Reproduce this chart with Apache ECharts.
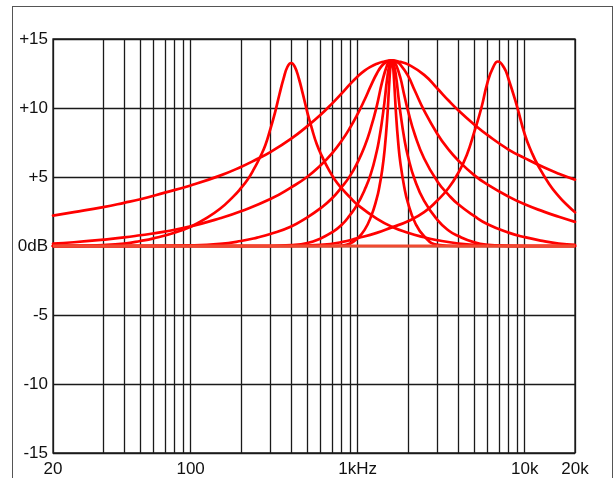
<!DOCTYPE html>
<html>
<head>
<meta charset="utf-8">
<script src="https://cdn.jsdelivr.net/npm/echarts@6/dist/echarts.min.js"></script>
<style>
  html, body { margin: 0; padding: 0; background: #fff; }
  #frame { position: absolute; left: 12px; top: 6px; width: 599px; height: 520px; border: 1px solid #555; }
  #chart { position: absolute; left: 0; top: 0; width: 616px; height: 478px; }
</style>
</head>
<body>
<div id="frame"></div>
<div id="chart"></div>
<script>
// frequency grid (Hz) and labels
var gridFreqs = [15, 30, 40, 50, 60, 70, 80, 90, 100, 200, 300, 400, 500, 600, 700, 800, 900,
    1000, 2000, 3000, 4000, 5000, 6000, 7000, 8000, 9000, 10000, 20000];
var labelFreqs = [15, 100, 1000, 10000, 20000];
var labelTexts = ['20', '100', '1kHz', '10k', '20k'];
var dbTicks = [-15, -10, -5, 0, 5, 10, 15];
var dbLabels = ['-15', '-10', '-5', '0dB', '+5', '+10', '+15'];

// curves: [frequency Hz, gain dB]
var bellWidest = [[15, 2.2], [20, 2.45], [30, 2.82], [40, 3.13], [50, 3.39], [70, 3.87], [100, 4.39], [150, 5.1],
    [200, 5.73], [250, 6.3], [300, 6.8], [400, 7.78], [500, 8.69], [600, 9.51], [700, 10.3], [800, 11.04],
    [900, 11.73], [1000, 12.29], [1100, 12.71], [1200, 13.0], [1300, 13.2], [1400, 13.33], [1600, 13.45],
    [1800, 13.34], [2000, 13.16], [2500, 12.4], [3000, 11.41], [3500, 10.54], [4000, 9.84], [5000, 8.79],
    [6000, 8.03], [8000, 6.99], [10000, 6.37], [13000, 5.7], [16000, 5.24], [20000, 4.81]];
var bellWide = [[15, 0.17], [20, 0.27], [30, 0.46], [40, 0.62], [50, 0.78], [70, 1.04], [100, 1.42], [150, 2.01],
    [200, 2.52], [300, 3.4], [400, 4.25], [500, 5.02], [600, 5.85], [700, 6.7], [800, 7.61], [900, 8.57],
    [1000, 9.57], [1100, 10.6], [1200, 11.62], [1300, 12.48], [1400, 13.08], [1500, 13.35], [1600, 13.45],
    [1700, 13.35], [1800, 13.14], [2000, 12.34], [2200, 11.25], [2500, 9.81], [3000, 8.12], [3500, 6.99],
    [4000, 6.2], [5000, 5.12], [6000, 4.45], [8000, 3.58], [10000, 3.02], [13000, 2.49], [16000, 2.12],
    [20000, 1.75]];
var bellMid = [[15, 0], [50, 0], [100, 0.04], [150, 0.15], [200, 0.36], [250, 0.61], [300, 0.87], [400, 1.42],
    [500, 2.08], [600, 2.74], [700, 3.44], [800, 4.25], [900, 5.08], [1000, 6.08], [1100, 7.21], [1200, 8.57],
    [1300, 10.12], [1400, 11.87], [1500, 13.1], [1550, 13.35], [1600, 13.45], [1650, 13.35], [1700, 13.12],
    [1800, 12.21], [1900, 10.94], [2000, 9.81], [2200, 8.06], [2500, 6.34], [3000, 4.68], [3500, 3.71],
    [4000, 3.02], [5000, 2.16], [6000, 1.58], [8000, 0.97], [10000, 0.64], [13000, 0.35], [16000, 0.18],
    [20000, 0.09]];
var bellNarrow = [[15, 0], [300, 0], [400, 0.06], [500, 0.22], [600, 0.55], [700, 0.98], [800, 1.52], [900, 2.25],
    [1000, 3.05], [1100, 4.06], [1200, 5.24], [1300, 6.85], [1350, 7.87], [1400, 9.1], [1450, 10.52],
    [1500, 12.08], [1550, 13.11], [1600, 13.45], [1650, 13.1], [1700, 12.22], [1750, 10.92], [1800, 9.7],
    [1900, 7.81], [2000, 6.5], [2200, 4.78], [2500, 3.27], [3000, 1.89], [3500, 1.12], [4000, 0.72],
    [5000, 0.26], [6000, 0.08], [8000, 0], [20000, 0]];
var bellNarrowest = [[15, 0], [700, 0], [800, 0.03], [900, 0.18], [1000, 0.57], [1100, 1.17], [1200, 2.11],
    [1300, 3.43], [1350, 4.32], [1400, 5.45], [1450, 6.97], [1500, 9.11], [1550, 12.04],
    [1575, 13.11], [1600, 13.45], [1625, 13.11], [1650, 12.1], [1700, 9.4], [1750, 7.45], [1800, 6.06],
    [1900, 4.28], [2000, 3.13], [2200, 1.72], [2500, 0.71], [3000, 0.09], [4000, 0], [20000, 0]];
var peakLow = [[15, 0], [20, 0.01], [30, 0.07], [40, 0.18], [50, 0.36], [60, 0.55], [80, 0.96], [100, 1.4],
    [120, 1.91], [150, 2.7], [180, 3.58], [200, 4.19], [220, 4.83], [240, 5.6], [260, 6.42], [280, 7.3],
    [300, 8.47], [320, 9.67], [340, 10.98], [360, 12.13], [380, 12.99], [400, 13.26], [420, 13.0],
    [445, 12.12], [470, 11.0], [500, 9.67], [530, 8.58], [570, 7.35], [620, 6.35], [670, 5.55], [730, 4.8],
    [800, 4.19], [900, 3.52], [1000, 2.98], [1300, 1.99], [1600, 1.4], [2000, 0.96], [2500, 0.63],
    [3000, 0.42], [4000, 0.18], [5000, 0.09], [7000, 0.02], [10000, 0], [20000, 0]];
var peakHigh = [[15, 0], [400, 0], [600, 0.08], [800, 0.28], [1000, 0.57], [1300, 0.95], [1600, 1.35],
    [2000, 1.8], [2500, 2.45], [3000, 3.3], [3500, 4.2], [4000, 5.3], [4500, 6.6], [5000, 8.3], [5500, 10.0],
    [6000, 11.9], [6500, 13.0], [6900, 13.37], [7500, 12.95], [8000, 12.1], [9000, 10.1], [10000, 8.1],
    [11000, 6.8], [12000, 5.85], [14000, 4.5], [16000, 3.6], [18000, 2.95], [20000, 2.44]];
var flat = [[15, 0], [20000, 0]];

var curves = [bellWidest, bellWide, bellMid, bellNarrow, bellNarrowest, peakLow, peakHigh];

function toLog(pts) {
    return pts.map(function (p) { return [Math.log10(p[0]), p[1]]; });
}

var font = 'Liberation Sans, Arial, sans-serif';
var myChart = echarts.init(document.getElementById('chart'), null, { renderer: 'canvas' });

var series = curves.map(function (c) {
    return {
        type: 'line',
        data: toLog(c),
        smooth: 0.5,
        symbol: 'none',
        lineStyle: { color: '#ff0000', width: 2.7, cap: 'round', join: 'round' },
        z: 3
    };
});
series.push({
    type: 'line',
    data: toLog(flat),
    symbol: 'none',
    lineStyle: { color: '#f04a30', width: 3 },
    z: 4
});

var gridLine = { color: '#1a1a1a', width: 1.3 };

var option = {
    animation: false,
    backgroundColor: 'transparent',
    grid: { left: 53, top: 39, width: 522, height: 418, show: true, borderColor: '#1a1a1a', borderWidth: 1.3 },
    xAxis: {
        type: 'value',
        min: Math.log10(15),
        max: Math.log10(20000),
        axisLine: { show: false },
        axisTick: { show: false, customValues: gridFreqs.map(function (f) { return Math.log10(f); }) },
        splitLine: { show: true, lineStyle: gridLine },
        axisLabel: {
            customValues: labelFreqs.map(function (f) { return Math.log10(f); }),
            margin: 8,
            color: '#111',
            fontSize: 17,
            fontFamily: font,
            formatter: function (v) {
                for (var i = 0; i < labelFreqs.length; i++) {
                    if (Math.abs(Math.log10(labelFreqs[i]) - v) < 1e-6) return labelTexts[i];
                }
                return '';
            }
        }
    },
    yAxis: {
        type: 'value',
        min: -15,
        max: 15,
        interval: 5,
        axisLine: { show: false },
        axisTick: { show: false },
        splitLine: { show: true, lineStyle: gridLine },
        axisLabel: {
            margin: 5,
            color: '#111',
            fontSize: 17,
            fontFamily: font,
            formatter: function (v) {
                return dbLabels[dbTicks.indexOf(v)];
            }
        }
    },
    series: series
};
myChart.setOption(option);
</script>
</body>
</html>
